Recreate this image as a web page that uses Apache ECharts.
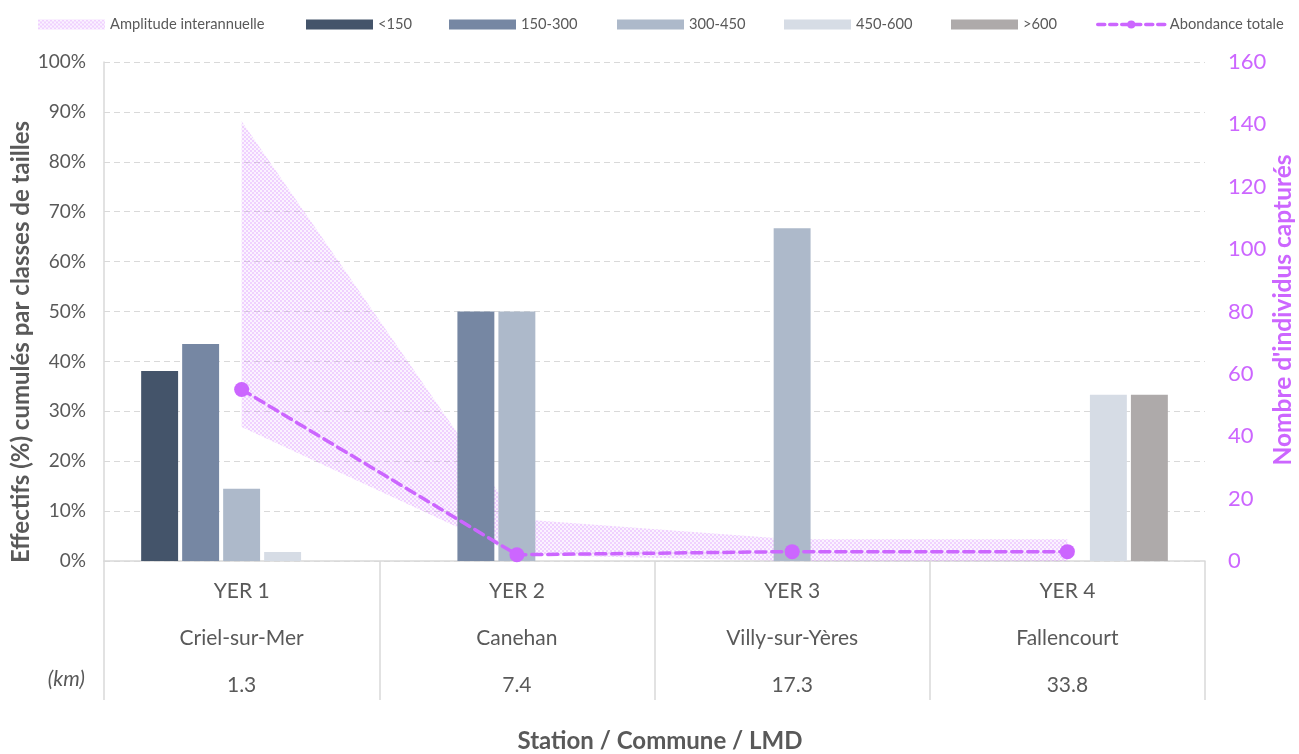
<!DOCTYPE html>
<html><head><meta charset="utf-8">
<script src="https://cdn.jsdelivr.net/npm/echarts/dist/echarts.min.js"></script>
<style>html,body{margin:0;padding:0;background:#fff}#c{width:1299px;height:754px}</style>
</head><body><div id="c"></div>
<script>
// ---- data ----
const stations = ['YER 1', 'YER 2', 'YER 3', 'YER 4'];
const communes = ['Criel-sur-Mer', 'Canehan', 'Villy-sur-Yères', 'Fallencourt'];
const distances = ['1.3', '7.4', '17.3', '33.8'];
const sizeClasses = ['<150', '150-300', '300-450', '450-600', '>600'];
const pctLt150 = [38.1, 0, 0, 0];
const pct150to300 = [43.5, 50, 0, 0];
const pct300to450 = [14.5, 50, 66.7, 0];
const pct450to600 = [1.8, 0, 0, 33.3];
const pctGt600 = [0, 0, 0, 33.3];
const abondanceTotale = [55, 2, 3, 3];
const amplitudeMin = [43, 2, 0, 0];
const amplitudeMax = [141, 13.5, 7, 7];
const leftTicks = { min: 0, max: 100, interval: 10 };
const rightTicks = { min: 0, max: 160, interval: 20 };

// ---- styles ----
const FONT = 'Lato, Carlito, "Open Sans", sans-serif';
const GREY = '#595959';
const PURPLE = '#cc66ff';
const barColors = ['#44546a', '#7687a3', '#adb9ca', '#d6dce5', '#aeaaaa'];
const barData = [pctLt150, pct150to300, pct300to450, pct450to600, pctGt600];

function makePattern() {
  const c = document.createElement('canvas');
  c.width = 4; c.height = 4;
  const g = c.getContext('2d');
  g.fillStyle = 'rgba(204,102,255,0.08)';
  g.fillRect(0, 0, 4, 4);
  g.fillStyle = 'rgba(204,102,255,0.24)';
  g.fillRect(0, 0, 2, 2);
  g.fillRect(2, 2, 2, 2);
  return c;
}
const pattern = { image: makePattern(), repeat: 'repeat' };

const chart = echarts.init(document.getElementById('c'), null, { renderer: 'canvas' });

const series = [];
series.push({
  name: 'ampLow', type: 'line', stack: 'amp', yAxisIndex: 1, data: amplitudeMin,
  symbol: 'none', lineStyle: { opacity: 0 }, silent: true, z: 1
});
series.push({
  name: 'Amplitude interannuelle', type: 'line', stack: 'amp', yAxisIndex: 1,
  data: amplitudeMax.map((v, i) => v - amplitudeMin[i]),
  symbol: 'none', lineStyle: { width: 0, opacity: 0 }, itemStyle: { color: pattern },
  areaStyle: { color: pattern, opacity: 1 }, silent: true, z: 1
});
sizeClasses.forEach((name, k) => {
  series.push({
    name, type: 'bar', data: barData[k], barGap: '11%', barCategoryGap: '27%',
    itemStyle: { color: barColors[k] }, z: 2
  });
});
series.push({
  name: 'Abondance totale', type: 'line', yAxisIndex: 1, data: abondanceTotale,
  symbol: 'circle', symbolSize: 15, z: 5,
  itemStyle: { color: PURPLE },
  lineStyle: { color: PURPLE, width: 3.5, type: [10, 6], cap: 'round' }
});

const legendPos = [
  { name: 'Amplitude interannuelle', left: 33, icon: 'rect', itemStyle: { color: pattern } },
  { name: '<150', left: 301, icon: 'rect' },
  { name: '150-300', left: 444, icon: 'rect' },
  { name: '300-450', left: 612, icon: 'rect' },
  { name: '450-600', left: 779, icon: 'rect' },
  { name: '>600', left: 946, icon: 'rect' },
  { name: 'Abondance totale', left: 1091, lineStyle: { width: 3.5, type: [7, 5], cap: 'round' } }
];
const legends = legendPos.map(p => {
  const item = { name: p.name };
  if (p.icon) item.icon = p.icon;
  if (p.itemStyle) item.itemStyle = p.itemStyle;
  if (p.lineStyle) item.lineStyle = p.lineStyle;
  return {
    data: [item], left: p.left, top: 12, itemWidth: 67, itemHeight: 10, itemGap: 6,
    selectedMode: false,
    textStyle: { fontFamily: FONT, fontSize: 14.7, color: GREY, padding: [0, 0, 0, 0] }
  };
});

chart.setOption({
  animation: false,
  backgroundColor: '#fff',
  legend: legends,
  grid: { left: 104, right: 94, top: 62, bottom: 193, containLabel: false },
  xAxis: {
    type: 'category', data: stations, boundaryGap: true,
    axisLine: { lineStyle: { color: '#d9d9d9', width: 1.5 } },
    axisTick: { show: true, interval: 0, length: 139, lineStyle: { color: '#d9d9d9', width: 1.5 } },
    axisLabel: {
      interval: 0, margin: 7, lineHeight: 47, fontSize: 21, fontFamily: FONT, color: GREY,
      formatter: (v, i) => stations[i] + '\n' + communes[i] + '\n' + distances[i]
    }
  },
  yAxis: [
    {
      type: 'value', min: leftTicks.min, max: leftTicks.max, interval: leftTicks.interval,
      axisLine: { show: true, lineStyle: { color: '#d9d9d9', width: 1.5 } },
      axisTick: { show: false },
      axisLabel: { formatter: '{value}%', fontSize: 19, fontFamily: FONT, color: GREY, margin: 18 },
      splitLine: { show: true, lineStyle: { color: '#d9d9d9', type: [6, 4], width: 1 } }
    },
    {
      type: 'value', min: rightTicks.min, max: rightTicks.max, interval: rightTicks.interval,
      position: 'right',
      axisLine: { show: false }, axisTick: { show: false },
      axisLabel: { fontSize: 22, fontFamily: FONT, color: PURPLE, margin: 23 },
      splitLine: { show: false }
    }
  ],
  graphic: [
    {
      type: 'text', x: 21, y: 342, rotation: Math.PI / 2,
      style: { text: 'Effectifs (%) cumulés par classes de tailles', font: 'bold 24px ' + FONT,
        fill: GREY, textAlign: 'center', textVerticalAlign: 'middle' }
    },
    {
      type: 'text', x: 1283, y: 310, rotation: Math.PI / 2,
      style: { text: "Nombre d'individus capturés", font: 'bold 24.5px ' + FONT,
        fill: PURPLE, textAlign: 'center', textVerticalAlign: 'middle' }
    },
    {
      type: 'text', x: 85, y: 679,
      style: { text: '(km)', font: 'italic 21px ' + FONT, fill: GREY,
        textAlign: 'right', textVerticalAlign: 'middle' }
    },
    {
      type: 'text', x: 660, y: 741,
      style: { text: 'Station / Commune / LMD', font: 'bold 24px ' + FONT, fill: GREY,
        textAlign: 'center', textVerticalAlign: 'middle' }
    }
  ],
  series
});
</script>
</body></html>
